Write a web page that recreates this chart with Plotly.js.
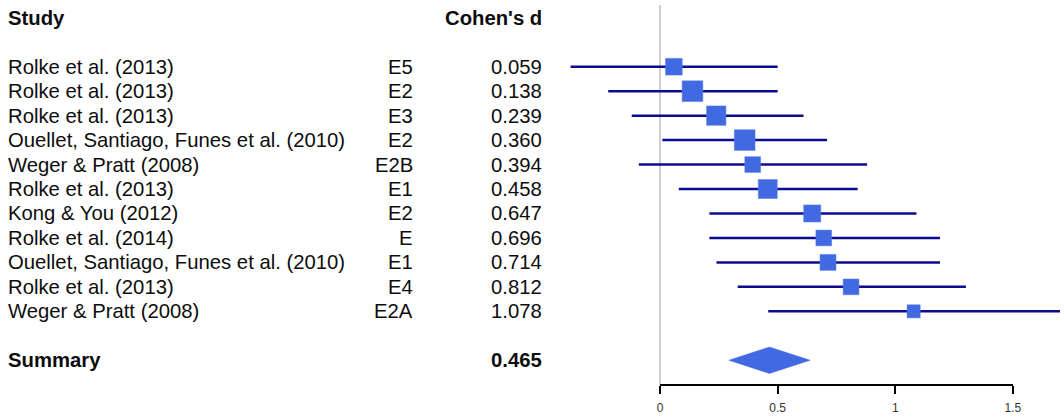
<!DOCTYPE html>
<html>
<head>
<meta charset="utf-8">
<script src="https://cdn.plot.ly/plotly-3.0.1.min.js"></script>
<style>html,body{margin:0;padding:0;background:#fff;}#chart{width:1064px;height:417px;}</style>
</head>
<body>
<div id="chart"></div>
<script>
// ---- data ----
const studies = ["Rolke et al. (2013)", "Rolke et al. (2013)", "Rolke et al. (2013)",
  "Ouellet, Santiago, Funes et al. (2010)", "Weger & Pratt (2008)", "Rolke et al. (2013)",
  "Kong & You (2012)", "Rolke et al. (2014)", "Ouellet, Santiago, Funes et al. (2010)",
  "Rolke et al. (2013)", "Weger & Pratt (2008)"];
const experiments = ["E5", "E2", "E3", "E2", "E2B", "E1", "E2", "E", "E1", "E4", "E2A"];
const cohensD = [0.059, 0.138, 0.239, 0.360, 0.394, 0.458, 0.647, 0.696, 0.714, 0.812, 1.078];
const ciLower = [-0.38, -0.22, -0.12, 0.01, -0.09, 0.08, 0.21, 0.21, 0.24, 0.33, 0.46];
const ciUpper = [0.50, 0.50, 0.61, 0.71, 0.88, 0.84, 1.09, 1.19, 1.19, 1.30, 1.70];
const weights = [8.8, 10.9, 10.2, 10.9, 8.3, 10.0, 9.0, 8.3, 8.4, 8.3, 6.9]; // relative weight (%)
const summaryD = 0.465;
const summaryLower = 0.293;
const summaryUpper = 0.638;
const tickVals = [0, 0.5, 1, 1.5];
const tickText = ["0", "0.5", "1", "1.5"];
const headers = {study: "Study", d: "Cohen's d", summary: "Summary"};

// ---- layout helpers ----
const firstRow = 2;            // header sits at row 0, studies from row 2
const rows = studies.map((_, i) => firstRow + i);
const summaryRow = firstRow + studies.length + 1;
const pxPerUnit = 235.3;
const zeroPx = 660;
const W = 1064, H = 417;
const xr = [(0 - zeroPx) / pxPerUnit, (W - zeroPx) / pxPerUnit];
const fontFam = "Liberation Sans, Arial, sans-serif";
const txtColor = "#0d0d0d";

// CI segments
const segX = [], segY = [];
rows.forEach((r, i) => { segX.push(ciLower[i], ciUpper[i], null); segY.push(r, r, null); });

const ciTrace = {
  type: "scatter", mode: "lines", x: segX, y: segY,
  line: {color: "#0c0c8e", width: 2.5}, hoverinfo: "skip", showlegend: false
};
const ptTrace = {
  type: "scatter", mode: "markers", x: cohensD, y: rows,
  marker: {symbol: "square", color: "#4169E1", opacity: 1,
    size: weights.map(w => w * 1.9), line: {width: 0.5, color: "#5a7fe8"}},
  showlegend: false
};
const dh = 0.54;
const diamond = {
  type: "scatter", mode: "lines", fill: "toself", fillcolor: "#4169E1",
  x: [summaryLower, summaryD, summaryUpper, summaryD, summaryLower],
  y: [summaryRow, summaryRow - dh, summaryRow, summaryRow + dh, summaryRow],
  line: {color: "#4169E1", width: 0.5}, showlegend: false, hoverinfo: "skip"
};

const colStudy = 6 / W, colExp = 415 / W, colD = 544 / W;
const ann = [];
function addText(text, xPaper, anchor, y, bold) {
  ann.push({xref: "paper", yref: "y", x: xPaper, y: y, xanchor: anchor, yanchor: "middle",
    text: bold ? "<b>" + text + "</b>" : text, showarrow: false,
    font: {family: fontFam, size: 20.3, color: txtColor}});
}
addText(headers.study, colStudy, "left", 0, true);
addText(headers.d, colD, "right", 0, true);
rows.forEach((r, i) => {
  addText(studies[i], colStudy, "left", r, false);
  addText(experiments[i], colExp, "right", r, false);
  addText(cohensD[i].toFixed(3), colD, "right", r, false);
});
addText(headers.summary, colStudy, "left", summaryRow, true);
addText(summaryD.toFixed(3), colD, "right", summaryRow, true);

const plotBottomPx = 385;
const rowPx = 24.46;
const headerPx = 17.8;
const yTop = 0 - headerPx / rowPx;
const yBottom = (plotBottomPx - headerPx) / rowPx;

const layout = {
  width: W, height: H,
  margin: {l: 0, r: 0, t: 0, b: H - plotBottomPx, pad: 0},
  paper_bgcolor: "#ffffff", plot_bgcolor: "#ffffff",
  xaxis: {range: xr, tickmode: "array", tickvals: tickVals, ticktext: tickText,
    showgrid: false, zeroline: false, showline: false, ticks: "outside", ticklen: 8,
    tickwidth: 2, tickcolor: "#000", ticklabelstandoff: 4,
    tickfont: {family: fontFam, size: 12, color: "#333"}, fixedrange: true},
  yaxis: {range: [yBottom, yTop], showgrid: false, zeroline: false, showline: false,
    showticklabels: false, ticks: "", fixedrange: true},
  shapes: [
    {type: "line", xref: "x", yref: "paper", x0: 0, x1: 0, y0: 0, y1: 1 - 5 / plotBottomPx,
      line: {color: "#cfcfcf", width: 2}, layer: "below"},
    {type: "line", xref: "x", yref: "paper", x0: tickVals[0], x1: tickVals[tickVals.length - 1],
      y0: 0, y1: 0, line: {color: "#000", width: 2}}
  ],
  annotations: ann,
  showlegend: false
};

Plotly.newPlot("chart", [ciTrace, ptTrace, diamond], layout, {displayModeBar: false, staticPlot: true});
</script>
</body>
</html>
